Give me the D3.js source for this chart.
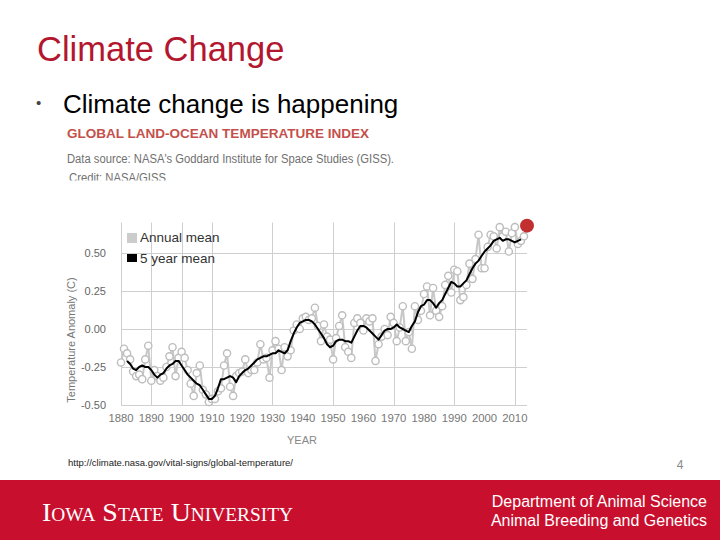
<!DOCTYPE html>
<html><head><meta charset="utf-8">
<script src="https://cdn.jsdelivr.net/npm/d3@7/dist/d3.min.js"></script>
<style>body{margin:0;background:#fff} svg{display:block}</style>
</head><body><svg id="c" width="720" height="540"></svg>
<script>
// ---- data ----
const years = d3.range(1880, 2015);
const annualMean = [
 -0.22,-0.13,-0.16,-0.20,-0.28,-0.31,-0.30,-0.33,-0.20,-0.11,
 -0.34,-0.27,-0.31,-0.34,-0.32,-0.25,-0.18,-0.12,-0.31,-0.19,
 -0.15,-0.19,-0.27,-0.36,-0.44,-0.29,-0.24,-0.40,-0.43,-0.48,
 -0.46,-0.46,-0.41,-0.39,-0.24,-0.16,-0.38,-0.44,-0.31,-0.29,
 -0.28,-0.20,-0.29,-0.27,-0.27,-0.22,-0.10,-0.20,-0.19,-0.32,
 -0.14,-0.08,-0.13,-0.27,-0.12,-0.18,-0.14,-0.01, 0.03, 0.00,
  0.07, 0.08, 0.06, 0.07, 0.14, 0.02,-0.08, 0.03,-0.05,-0.07,
 -0.20,-0.06, 0.02, 0.09,-0.12,-0.15,-0.19, 0.04, 0.07, 0.04,
 -0.01, 0.07, 0.05, 0.07,-0.21,-0.10,-0.05, 0.00,-0.04, 0.08,
  0.04,-0.08, 0.01, 0.15,-0.08,-0.02,-0.13, 0.15, 0.06, 0.12,
  0.23, 0.28, 0.09, 0.27, 0.12, 0.08, 0.15, 0.29, 0.35, 0.24,
  0.39, 0.38, 0.19, 0.21, 0.29, 0.43, 0.33, 0.46, 0.62, 0.40,
  0.40, 0.54, 0.62, 0.61, 0.53, 0.67, 0.61, 0.64, 0.51, 0.63,
  0.67, 0.56, 0.58, 0.61, 0.68
];
const meanYears = d3.range(1882, 2013);
const fiveYearMean = [
 -0.21,-0.23,-0.26,-0.27,-0.25,-0.24,-0.25,-0.25,
 -0.27,-0.30,-0.32,-0.30,-0.29,-0.26,-0.24,-0.23,-0.21,-0.21,
 -0.24,-0.27,-0.30,-0.32,-0.34,-0.36,-0.37,-0.40,-0.43,-0.46,
 -0.46,-0.44,-0.39,-0.33,-0.33,-0.32,-0.31,-0.32,-0.35,-0.31,
 -0.29,-0.27,-0.26,-0.24,-0.22,-0.20,-0.19,-0.18,-0.18,-0.17,
 -0.16,-0.16,-0.14,-0.15,-0.16,-0.14,-0.08,-0.03, 0.01, 0.04,
  0.05, 0.06, 0.06, 0.05, 0.03, 0.00,-0.03,-0.06,-0.10,-0.12,
 -0.11,-0.08,-0.07,-0.07,-0.08,-0.08,-0.09,-0.05,-0.01, 0.02,
  0.02, 0.01,-0.01,-0.03,-0.05,-0.07,-0.04,-0.01, 0.00, 0.00,
  0.01, 0.03, 0.01, 0.00,-0.01,-0.02, 0.02, 0.05, 0.11, 0.15,
  0.16, 0.19, 0.19, 0.17, 0.14, 0.17, 0.19, 0.23, 0.27, 0.31,
  0.30, 0.28, 0.28, 0.30, 0.32, 0.36, 0.40, 0.43, 0.45, 0.48,
  0.51, 0.53, 0.55, 0.58, 0.59, 0.60, 0.58, 0.59, 0.59, 0.58,
  0.57, 0.58, 0.59
];
const xTicks = [1880,1890,1900,1910,1920,1930,1940,1950,1960,1970,1980,1990,2000,2010];
const xTickLabels = ["1880","1890","1900","1910","1920","1930","1940","1950","1960","1970","1980","1990","2000","2010"];
const gridYears = [1880,1890,1900,1910,1930,1950,1970,1990,2010];
const yTicks = [0.5,0.25,0,-0.25,-0.5];
const yTickLabels = ["0.50","0.25","0.00","-0.25","-0.50"];
const latestYear = 2014, latestValue = 0.68;
const legendLabels = ["Annual mean","5 year mean"];

// ---- drawing ----
const svg = d3.select("#c");
const SANS = "'Liberation Sans', Arial, sans-serif";

// slide title
svg.append("text").attr("x",37).attr("y",61).attr("font-family",SANS).attr("font-size",34.5)
  .attr("fill","#b3172f").text("Climate Change");
svg.append("text").attr("x",36).attr("y",108).attr("font-family",SANS).attr("font-size",15)
  .attr("fill","#444").text("•");
svg.append("text").attr("x",63).attr("y",113).attr("font-family",SANS).attr("font-size",26)
  .attr("fill","#000").text("Climate change is happening");

// chart header
svg.append("text").attr("x",67).attr("y",138.3).attr("font-family",SANS).attr("font-size",12.5)
  .attr("font-weight","bold").attr("fill","#c4504c").attr("textLength",302).attr("lengthAdjust","spacingAndGlyphs")
  .text("GLOBAL LAND-OCEAN TEMPERATURE INDEX");
svg.append("text").attr("x",67).attr("y",162.5).attr("font-family",SANS).attr("font-size",12)
  .attr("fill","#707070").attr("textLength",327).attr("lengthAdjust","spacingAndGlyphs")
  .text("Data source: NASA's Goddard Institute for Space Studies (GISS).");
svg.append("clipPath").attr("id","cr").append("rect").attr("x",0).attr("y",160).attr("width",720).attr("height",20.5);
svg.append("text").attr("x",69).attr("y",182).attr("font-family",SANS).attr("font-size",12)
  .attr("fill","#707070").attr("clip-path","url(#cr)").attr("textLength",97).attr("lengthAdjust","spacingAndGlyphs")
  .text("Credit: NASA/GISS");

// scales
const x = d3.scaleLinear().domain([1880, 2014]).range([121, 527]);
const y = d3.scaleLinear().domain([-0.5, 0.7]).range([405, 222.6]);

// grid
const g = svg.append("g");
g.selectAll(".hg").data(yTicks).join("line")
  .attr("x1",x(1880)).attr("x2",x(2014)).attr("y1",d=>Math.round(y(d))+0.5).attr("y2",d=>Math.round(y(d))+0.5)
  .attr("stroke","#cfcfcf").attr("stroke-width",1);
g.selectAll(".vg").data(gridYears).join("line")
  .attr("y1",y(0.7)).attr("y2",y(-0.5)).attr("x1",d=>Math.round(x(d))+0.5).attr("x2",d=>Math.round(x(d))+0.5)
  .attr("stroke","#cfcfcf").attr("stroke-width",1);

// axes labels
svg.selectAll(".yl").data(yTicks).join("text")
  .attr("x",106).attr("y",d=>y(d)+4).attr("text-anchor","end")
  .attr("font-family",SANS).attr("font-size",11).attr("fill","#666")
  .text((d,i)=>yTickLabels[i]);
svg.selectAll(".xl").data(xTicks).join("text")
  .attr("x",d=>x(d)).attr("y",422).attr("text-anchor","middle")
  .attr("font-family",SANS).attr("font-size",11.3).attr("fill","#777")
  .text((d,i)=>xTickLabels[i]);
svg.append("text").attr("x",302).attr("y",444).attr("text-anchor","middle")
  .attr("font-family",SANS).attr("font-size",11).attr("fill","#888").text("YEAR");
svg.append("text").attr("transform","translate(75,340) rotate(-90)").attr("text-anchor","middle")
  .attr("font-family",SANS).attr("font-size",11).attr("fill","#777").text("Temperature Anomaly (C)");

// annual line + markers
const annual = years.map((yr,i)=>({yr, v: annualMean[i]}));
const line = d3.line().x(d=>x(d.yr)).y(d=>y(d.v));
svg.append("path").datum(annual).attr("d",line).attr("fill","none")
  .attr("stroke","#c8c8c8").attr("stroke-width",2);
svg.selectAll(".pt").data(annual.slice(0,-1)).join("circle")
  .attr("cx",d=>x(d.yr)).attr("cy",d=>y(d.v)).attr("r",3.6)
  .attr("fill","#fff").attr("stroke","#bdbdbd").attr("stroke-width",1.4);

// 5-year mean
const mean = meanYears.map((yr,i)=>({yr, v: fiveYearMean[i]}));
svg.append("path").datum(mean).attr("d",line).attr("fill","none")
  .attr("stroke","#000").attr("stroke-width",2).attr("stroke-linejoin","round");

// latest point
svg.append("circle").attr("cx",x(latestYear)).attr("cy",y(latestValue)).attr("r",7)
  .attr("fill","#c22f2f");

// legend
const lg = svg.append("g");
lg.append("rect").attr("x",127).attr("y",233).attr("width",10).attr("height",10).attr("fill","#cccccc");
lg.append("rect").attr("x",127).attr("y",254).attr("width",10).attr("height",8).attr("fill","#000");
lg.selectAll(".lt").data(legendLabels).join("text")
  .attr("x",140).attr("y",(d,i)=>242+i*21)
  .attr("font-family",SANS).attr("font-size",13.5).attr("fill","#333").text(d=>d);

// source url & page number
svg.append("text").attr("x",68).attr("y",466).attr("font-family","'Liberation Sans Narrow', "+SANS)
  .attr("font-size",9.5).attr("fill","#222").attr("textLength",225).attr("lengthAdjust","spacingAndGlyphs")
  .text("http://climate.nasa.gov/vital-signs/global-temperature/");
svg.append("text").attr("x",680).attr("y",469).attr("text-anchor","middle")
  .attr("font-family",SANS).attr("font-size",12).attr("fill","#888").text("4");

// footer band
svg.append("rect").attr("x",0).attr("y",480).attr("width",720).attr("height",60).attr("fill","#c8102e");
svg.append("text").attr("x",42).attr("y",521).attr("font-family","'Liberation Serif', 'Times New Roman', serif")
  .attr("font-size",26).attr("font-variant","small-caps").attr("fill","#fff")
  .attr("textLength",251).attr("lengthAdjust","spacingAndGlyphs").text("Iowa State University");
svg.append("text").attr("x",707).attr("y",507).attr("text-anchor","end").attr("font-family",SANS)
  .attr("font-size",16).attr("fill","#fff").text("Department of Animal Science");
svg.append("text").attr("x",707).attr("y",526).attr("text-anchor","end").attr("font-family",SANS)
  .attr("font-size",16).attr("fill","#fff").text("Animal Breeding and Genetics");
</script></body></html>
